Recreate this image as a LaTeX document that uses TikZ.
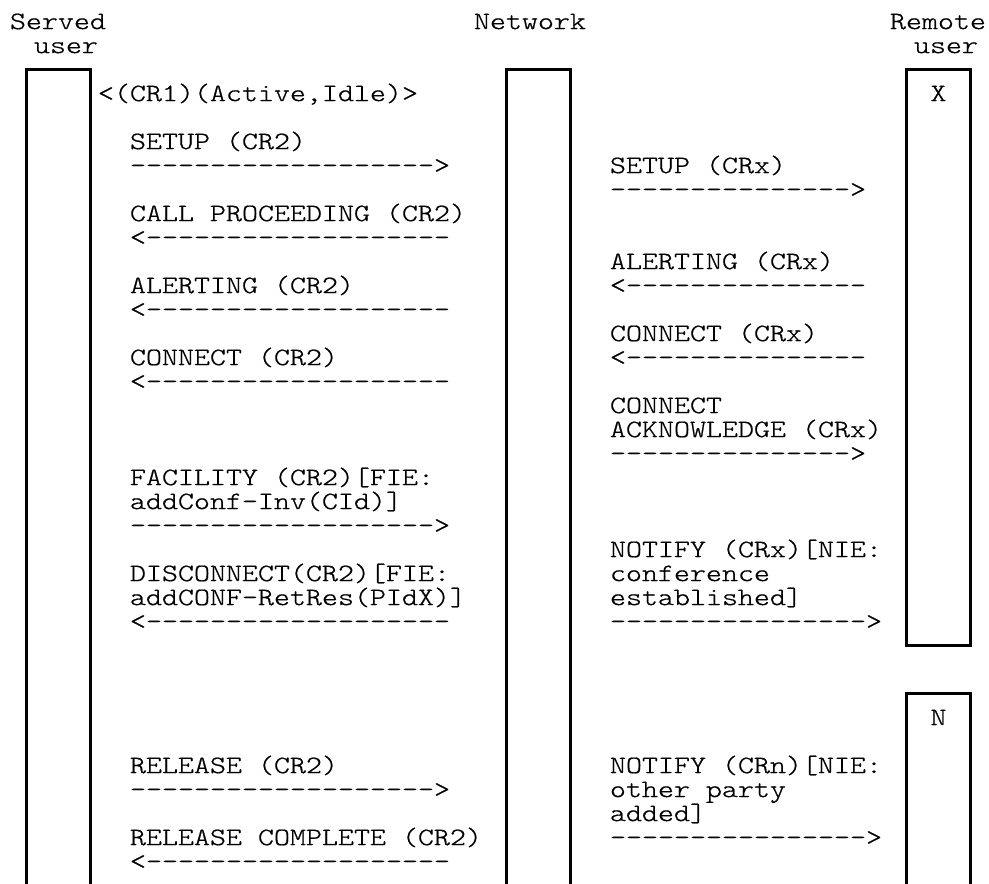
\documentclass[tikz,border=0pt]{standalone}
\usepackage{fontspec}
\newfontfamily\asc{lmmonolt10-regular.otf}[FakeStretch=1.219,FakeBold=0.7,Ligatures=TeXOff]
\begin{document}
\begin{tikzpicture}[x=1pt,y=-1pt,
  txt/.style={anchor=base west,inner sep=0pt,outer sep=0pt,font=\asc\fontsize{25pt}{24pt}\selectfont},
  boxlabel/.style={anchor=base,inner sep=0pt,outer sep=0pt,font=\asc\fontsize{25pt}{24pt}\selectfont},
  lifeline/.style={line width=2.3pt,line join=miter},
  seam/.style={line width=3pt}]
\useasboundingbox (0,0) rectangle (989,884);
% boxes (lifelines)
\draw[lifeline] (26.5,884) -- (26.5,69.5) -- (90.5,69.5) -- (90.5,884);
\draw[lifeline] (506.5,884) -- (506.5,69.5) -- (570.5,69.5) -- (570.5,884);
\draw[lifeline] (906.5,69.5) rectangle (970.5,645.5);
\draw[lifeline] (906.5,884) -- (906.5,693.5) -- (970.5,693.5) -- (970.5,884);
% seams of the box-drawing characters
\foreach \x in {26.5,90.5,506.5,570.5}{
  \foreach \k in {1,...,34}{
    \draw[seam] (\x,{57.5+24*\k-1}) -- (\x,{57.5+24*\k+1});}}
\foreach \x in {906.5,970.5}{
  \foreach \k in {1,...,24}{
    \draw[seam] (\x,{57.5+24*\k-1}) -- (\x,{57.5+24*\k+1});}
  \foreach \k in {27,...,34}{
    \draw[seam] (\x,{57.5+24*\k-1}) -- (\x,{57.5+24*\k+1});}}
% headings
\node[txt] (h1) at (10,{77.1-48}) {Served};
\node[txt] (h2) at (34,{77.1-24}) {user};
\node[txt] (h3) at (474,{77.1-48}) {Network};
\node[txt] (h4) at (890,{77.1-48}) {Remote};
\node[txt] (h5) at (914,{77.1-24}) {user};
\node[boxlabel] (mx) at (938.5,{77.1+24*1}) {X};
\node[boxlabel] (mn) at (938.5,{77.1+24*27}) {N};
% served user <-> network
\node[txt] (a0) at (98,{77.1+24*1}) {<(CR1)(Active,Idle)>};
\node[txt] (a1) at (130,{77.1+24*3}) {SETUP (CR2)};
\node[txt] (a1d) at (130,{77.1+24*4}) {------------------->};
\node[txt] (a2) at (130,{77.1+24*6}) {CALL PROCEEDING (CR2)};
\node[txt] (a2d) at (130,{77.1+24*7}) {<-------------------};
\node[txt] (a3) at (130,{77.1+24*9}) {ALERTING (CR2)};
\node[txt] (a3d) at (130,{77.1+24*10}) {<-------------------};
\node[txt] (a4) at (130,{77.1+24*12}) {CONNECT (CR2)};
\node[txt] (a4d) at (130,{77.1+24*13}) {<-------------------};
\node[txt] (a5) at (130,{77.1+24*17}) {FACILITY (CR2)[FIE:};
\node[txt] (a5b) at (130,{77.1+24*18}) {addConf-Inv(CId)]};
\node[txt] (a5d) at (130,{77.1+24*19}) {------------------->};
\node[txt] (a6) at (130,{77.1+24*21}) {DISCONNECT(CR2)[FIE:};
\node[txt] (a6b) at (130,{77.1+24*22}) {addCONF-RetRes(PIdX)]};
\node[txt] (a6d) at (130,{77.1+24*23}) {<-------------------};
\node[txt] (a7) at (130,{77.1+24*29}) {RELEASE (CR2)};
\node[txt] (a7d) at (130,{77.1+24*30}) {------------------->};
\node[txt] (a8) at (130,{77.1+24*32}) {RELEASE COMPLETE (CR2)};
\node[txt] (a8d) at (130,{77.1+24*33}) {<-------------------};
% network <-> remote user
\node[txt] (b1) at (610,{77.1+24*4}) {SETUP (CRx)};
\node[txt] (b1d) at (610,{77.1+24*5}) {--------------->};
\node[txt] (b2) at (610,{77.1+24*8}) {ALERTING (CRx)};
\node[txt] (b2d) at (610,{77.1+24*9}) {<---------------};
\node[txt] (b3) at (610,{77.1+24*11}) {CONNECT (CRx)};
\node[txt] (b3d) at (610,{77.1+24*12}) {<---------------};
\node[txt] (b4) at (610,{77.1+24*14}) {CONNECT};
\node[txt] (b4b) at (610,{77.1+24*15}) {ACKNOWLEDGE (CRx)};
\node[txt] (b4d) at (610,{77.1+24*16}) {--------------->};
\node[txt] (b5) at (610,{77.1+24*20}) {NOTIFY (CRx)[NIE:};
\node[txt] (b5b) at (610,{77.1+24*21}) {conference};
\node[txt] (b5c) at (610,{77.1+24*22}) {established]};
\node[txt] (b5d) at (610,{77.1+24*23}) {---------------->};
\node[txt] (b6) at (610,{77.1+24*29}) {NOTIFY (CRn)[NIE:};
\node[txt] (b6b) at (610,{77.1+24*30}) {other party};
\node[txt] (b6c) at (610,{77.1+24*31}) {added]};
\node[txt] (b6d) at (610,{77.1+24*32}) {---------------->};
\end{tikzpicture}
\end{document}
